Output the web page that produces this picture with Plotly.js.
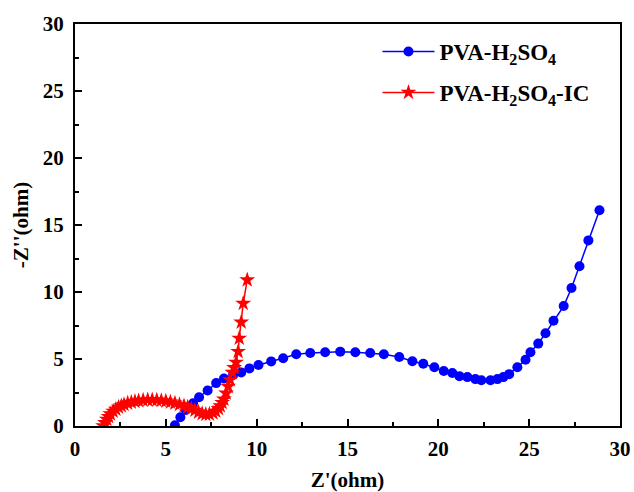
<!DOCTYPE html>
<html>
<head>
<meta charset="utf-8">
<script src="https://cdn.plot.ly/plotly-3.0.1.min.js"></script>
<style>html,body{margin:0;padding:0;background:#fff;}#chart{width:634px;height:492px;}</style>
</head>
<body>
<div id="chart"></div>
<script>
var seriesNames = ['PVA-H<sub>2</sub>SO<sub>4</sub>', 'PVA-H<sub>2</sub>SO<sub>4</sub>-IC'];

var pvaX = [5.5,5.8,6.1,6.5,6.83,7.3,7.77,8.2,8.7,9.15,9.6,10.1,10.8,11.46,12.18,12.95,13.77,14.6,15.43,16.25,17.0,17.85,18.57,19.17,19.78,20.3,20.77,21.16,21.6,22.04,22.37,22.87,23.25,23.58,23.9,24.35,24.8,25.07,25.5,25.9,26.34,26.9,27.33,27.77,28.26,28.87];
var pvaY = [0.05,0.65,1.2,1.7,2.15,2.65,3.2,3.55,3.8,4.0,4.3,4.55,4.82,5.05,5.35,5.45,5.5,5.55,5.5,5.45,5.35,5.15,4.83,4.65,4.38,4.1,3.95,3.72,3.65,3.5,3.42,3.42,3.5,3.65,3.87,4.38,4.95,5.5,6.15,6.92,7.85,8.95,10.3,11.92,13.85,16.1];

var icX = [1.55,1.65,1.75,1.85,1.95,2.1,2.25,2.4,2.55,2.7,2.9,3.1,3.3,3.5,3.75,4.0,4.25,4.5,4.75,5.0,5.25,5.5,5.75,6.0,6.2,6.4,6.6,6.8,7.0,7.2,7.4,7.6,7.75,7.9,8.0,8.1,8.2,8.32,8.43,8.54,8.66,8.76,8.87,8.98,9.04,9.15,9.26,9.48];
var icY = [0.02,0.25,0.5,0.7,0.9,1.1,1.25,1.4,1.5,1.6,1.7,1.77,1.83,1.88,1.92,1.95,1.95,1.93,1.9,1.85,1.78,1.7,1.6,1.5,1.4,1.3,1.17,1.03,0.92,0.87,0.88,0.97,1.1,1.3,1.5,1.75,2.0,2.45,2.95,3.45,4.0,4.35,4.75,5.55,6.55,7.75,9.15,10.9];

var xTicks = [0,5,10,15,20,25,30];
var yTicks = [0,5,10,15,20,25,30];

var serif = 'Liberation Serif, Times New Roman, serif';
var tickFont = {family:serif, size:21, color:'#000', weight:700};
var bold = function(s){ return '<b>' + s + '</b>'; };

var traces = [
  {x:pvaX, y:pvaY, name:bold(seriesNames[0]), legendgroup:'a', mode:'lines+markers', type:'scatter',
   line:{color:'#0000ff', width:1.5}, marker:{symbol:'circle', size:10, color:'#0000ff'}},
  {x:icX, y:icY, name:bold(seriesNames[1]), legendgroup:'b', mode:'lines+markers', type:'scatter',
   line:{color:'#ff0000', width:1.5}, marker:{symbol:'star', size:12, color:'#ff0000'}}
];

var axisCommon = {
  showgrid:false, zeroline:false, showline:true, linecolor:'#000', linewidth:2,
  mirror:true, ticks:'inside', ticklen:7, tickwidth:2, tickcolor:'#000',
  tickfont:tickFont,
  minor:{ticks:'inside', ticklen:4, tickwidth:2, tickcolor:'#000', dtick:2.5, showgrid:false}
};

var layout = {
  width:634, height:492,
  margin:{l:75, r:13, t:22, b:66},
  paper_bgcolor:'#fff', plot_bgcolor:'#fff',
  showlegend:true,
  legend:{x:0.555, y:0.985, xanchor:'left', yanchor:'top', bgcolor:'rgba(0,0,0,0)',
    font:{family:serif, size:23, color:'#000', weight:700},
    tracegroupgap:8, itemwidth:52},
  xaxis:Object.assign({}, axisCommon, {range:[0,30], automargin:false, tickmode:'array', tickvals:xTicks, ticktext:xTicks.map(function(v){return bold(v);}),
    ticklabelstandoff:3,
    title:{text:bold("Z'(ohm)"), font:{family:serif, size:21, color:'#000', weight:700}}}),
  yaxis:Object.assign({}, axisCommon, {range:[0,30], automargin:true, tickmode:'array', tickvals:yTicks, ticktext:yTicks.map(function(v){return bold(v);}),
    ticklabelstandoff:5,
    title:{text:bold("-Z''(ohm)"), font:{family:serif, size:21, color:'#000', weight:700}, standoff:8}})
};

Plotly.newPlot('chart', traces, layout, {staticPlot:true, displayModeBar:false});
</script>
</body>
</html>
